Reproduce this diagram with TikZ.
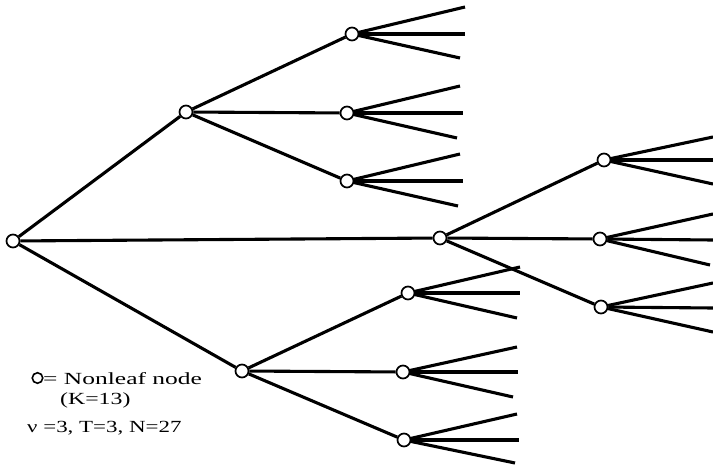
\documentclass[tikz,border=0pt]{standalone}
\usepackage{fontspec}
\setmainfont{Liberation Serif}
\newcommand{\widetext}[2]{\scalebox{#1}[1]{#2}}
\begin{document}
\begin{tikzpicture}[x=1pt,y=-1pt,
  nl/.style={circle,draw,fill=white,line width=1.7pt,minimum size=13pt,inner sep=0pt},
  br/.style={line width=3.1pt},
  lbl/.style={font=\fontsize{17}{19}\selectfont,anchor=base west,inner sep=0pt}]
\useasboundingbox (0,0) rectangle (713,468);

% root and first level
\node[nl] (R) at (13,241) {};
\node[nl] (A) at (186,112) {};
\node[nl] (B) at (440,238) {};
\node[nl] (C) at (242,371) {};

% second level
\node[nl] (A1) at (352,34) {};
\node[nl] (A2) at (347,113) {};
\node[nl] (A3) at (347,181) {};
\node[nl] (B1) at (604,160) {};
\node[nl] (B2) at (600,239) {};
\node[nl] (B3) at (601,307) {};
\node[nl] (C1) at (408,293) {};
\node[nl] (C2) at (403,372) {};
\node[nl] (C3) at (404,440) {};

% leaf ends
\coordinate (A1a) at (465,7);   \coordinate (A1b) at (465,34);  \coordinate (A1c) at (460,58);
\coordinate (A2a) at (460,86);  \coordinate (A2b) at (463,113); \coordinate (A2c) at (457,138);
\coordinate (A3a) at (460,154); \coordinate (A3b) at (463,181); \coordinate (A3c) at (458,206);
\coordinate (B1a) at (713,137); \coordinate (B1b) at (713,160); \coordinate (B1c) at (713,184);
\coordinate (B2a) at (713,214); \coordinate (B2b) at (713,240); \coordinate (B2c) at (710,265);
\coordinate (B3a) at (713,283); \coordinate (B3b) at (713,308); \coordinate (B3c) at (713,332);
\coordinate (C1a) at (520,267); \coordinate (C1b) at (520,293); \coordinate (C1c) at (517,318);
\coordinate (C2a) at (517,347); \coordinate (C2b) at (518,372); \coordinate (C2c) at (513,397);
\coordinate (C3a) at (517,414); \coordinate (C3b) at (519,440); \coordinate (C3c) at (515,463);

% branches
\draw[br] (R) -- (A);
\draw[br] (R) -- (B);
\draw[br] (R) -- (C);
\foreach \p in {A,B,C}{
  \foreach \i in {1,2,3}{
    \draw[br] (\p) -- (\p\i);
  }
}
\foreach \p in {A1,A2,A3,B1,B2,B3,C1,C2,C3}{
  \foreach \l in {a,b,c}{
    \draw[br] (\p) -- (\p\l);
  }
}

% legend
\node[circle,draw,line width=1.6pt,minimum size=10.5pt,inner sep=0pt] (key) at (37.5,378) {};
\node[lbl] (t1) at (43,384) {\widetext{1.5}{= Nonleaf node}};
\node[lbl] (t2) at (60,404) {\widetext{1.4}{(K=13)}};
\node[lbl] (t3) at (27,432) {\widetext{1.35}{ν =3, T=3, N=27}};
\end{tikzpicture}
\end{document}
